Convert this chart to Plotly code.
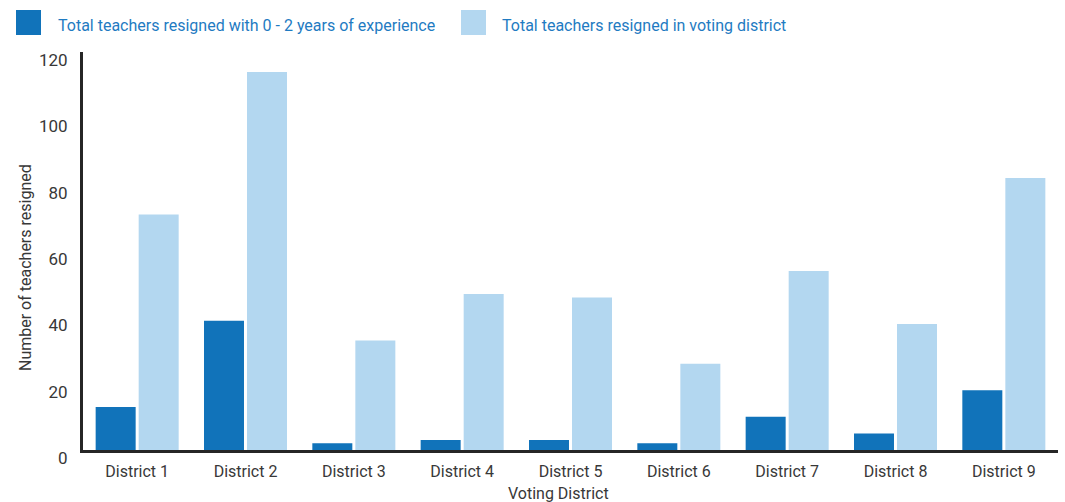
import plotly.graph_objects as go

# Resignations per voting district
districts = ["District 1", "District 2", "District 3", "District 4", "District 5",
             "District 6", "District 7", "District 8", "District 9"]
early_career = [13, 39, 2, 3, 3, 2, 10, 5, 18]
total_resigned = [71, 114, 33, 47, 46, 26, 54, 38, 82]

series_names = ["Total teachers resigned with 0 - 2 years of experience",
                "Total teachers resigned in voting district"]
series_colors = ["#1173BA", "#B3D7F0"]

y_ticks = [0, 20, 40, 60, 80, 100, 120]

W, H = 1065, 502
L, R, T, B = 83, 7, 52, 52
FONT = "Roboto, Liberation Sans, Arial, sans-serif"
TEXT_GREY = "#383838"
LEGEND_BLUE = "#1F7BC2"

fig = go.Figure()
for name, vals, col in zip(series_names, [early_career, total_resigned], series_colors):
    fig.add_trace(go.Bar(x=districts, y=vals, name=name, marker_color=col,
                         marker_line_width=0, showlegend=False))

# Custom legend: large square swatches with blue labels above the plot
pw, ph = W - L - R, H - T - B


def px_x(px):
    return (px - L) / pw


def px_y(py):
    return (H - B - py) / ph


shapes = []
annotations = []
legend_items = [(16, 41, 56), (461, 486, 500)]
for (x0, x1, tx), name, col in zip(legend_items, series_names, series_colors):
    shapes.append(dict(type="rect", xref="paper", yref="paper",
                       x0=px_x(x0), x1=px_x(x1), y0=px_y(35), y1=px_y(10),
                       fillcolor=col, line_width=0))
    annotations.append(dict(text=name, xref="paper", yref="paper",
                            x=px_x(tx), y=px_y(25), xanchor="left", yanchor="middle",
                            showarrow=False,
                            font=dict(family=FONT, size=16, color=LEGEND_BLUE)))

# Axis titles placed as free text
annotations.append(dict(text="Number of teachers resigned", xref="paper", yref="paper",
                        x=px_x(25), y=px_y(268), xanchor="center", yanchor="middle",
                        textangle=-90, showarrow=False,
                        font=dict(family=FONT, size=16, color=TEXT_GREY)))
annotations.append(dict(text="Voting District", xref="paper", yref="paper",
                        x=px_x(558), y=px_y(493), xanchor="center", yanchor="middle",
                        showarrow=False,
                        font=dict(family=FONT, size=16, color=TEXT_GREY)))

fig.update_layout(
    width=W, height=H,
    margin=dict(l=L, r=R, t=T, b=B, autoexpand=False),
    paper_bgcolor="white", plot_bgcolor="white",
    barmode="group", bargap=0.206, bargroupgap=0.07,
    font=dict(family=FONT, color=TEXT_GREY),
    shapes=shapes, annotations=annotations,
    xaxis=dict(
        automargin=False,
        showline=True, linewidth=3, linecolor="#262626",
        showgrid=False, ticks="", ticklabelstandoff=5,
        tickfont=dict(size=16, color=TEXT_GREY),
    ),
    yaxis=dict(
        automargin=False,
        range=[0, 120], tickvals=y_ticks,
        showline=True, linewidth=3, linecolor="#262626",
        showgrid=False, zeroline=False, ticks="",
        ticklabelstandoff=9, ticklabelshift=8,
        tickfont=dict(size=17, color=TEXT_GREY),
    ),
)

fig.write_html("out.html")
